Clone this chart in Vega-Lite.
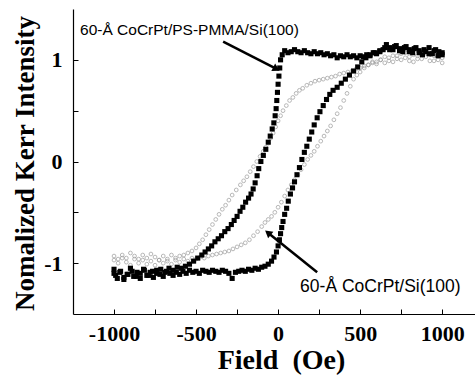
{
"$schema":"https://vega.github.io/schema/vega-lite/v6.json",
"width":402,"height":305,
"autosize":{"type":"none"},
"padding":{"left":73,"top":9,"right":0,"bottom":67},
"background":"white",
"config":{"view":{"stroke":null},
 "axis":{"grid":false,"domainColor":"black","domainWidth":1.2,"tickColor":"black","tickWidth":1,"labelColor":"black","titleColor":"black","labelFont":"Liberation Serif","labelFontWeight":"bold","labelFontSize":22,"titleFont":"Liberation Serif","titleFontWeight":"bold"}},
"datasets":{
"loops":[
{"s":"A","x":1000,"y":1.05},{"s":"A","x":980,"y":1.08},{"s":"A","x":960,"y":1.10},{"s":"A","x":940,"y":1.06},{"s":"A","x":920,"y":1.12},{"s":"A","x":900,"y":1.08},{"s":"A","x":880,"y":1.05},{"s":"A","x":860,"y":1.09},{"s":"A","x":840,"y":1.12},{"s":"A","x":820,"y":1.07},{"s":"A","x":800,"y":1.10},{"s":"A","x":780,"y":1.13},{"s":"A","x":760,"y":1.08},{"s":"A","x":740,"y":1.11},{"s":"A","x":720,"y":1.14},{"s":"A","x":700,"y":1.10},{"s":"A","x":680,"y":1.12},{"s":"A","x":660,"y":1.15},{"s":"A","x":640,"y":1.10},{"s":"A","x":620,"y":1.08},{"s":"A","x":600,"y":1.06},{"s":"A","x":580,"y":1.07},{"s":"A","x":560,"y":1.04},{"s":"A","x":540,"y":1.05},{"s":"A","x":520,"y":1.03},{"s":"A","x":500,"y":1.04},{"s":"A","x":480,"y":1.02},{"s":"A","x":460,"y":1.04},{"s":"A","x":440,"y":1.03},{"s":"A","x":420,"y":1.05},{"s":"A","x":400,"y":1.03},{"s":"A","x":380,"y":1.04},{"s":"A","x":360,"y":1.02},{"s":"A","x":340,"y":1.05},{"s":"A","x":320,"y":1.04},{"s":"A","x":300,"y":1.06},{"s":"A","x":280,"y":1.05},{"s":"A","x":260,"y":1.07},{"s":"A","x":240,"y":1.06},{"s":"A","x":220,"y":1.08},{"s":"A","x":200,"y":1.06},{"s":"A","x":180,"y":1.07},{"s":"A","x":160,"y":1.09},{"s":"A","x":140,"y":1.07},{"s":"A","x":120,"y":1.08},{"s":"A","x":100,"y":1.10},{"s":"A","x":80,"y":1.08},{"s":"A","x":60,"y":1.07},{"s":"A","x":40,"y":1.09},{"s":"A","x":25,"y":1.05},{"s":"A","x":15,"y":1.00},{"s":"A","x":10,"y":0.92},{"s":"A","x":5,"y":0.84},{"s":"A","x":0,"y":0.76},{"s":"A","x":-4,"y":0.68},{"s":"A","x":-8,"y":0.60},{"s":"A","x":-12,"y":0.52},{"s":"A","x":-18,"y":0.45},{"s":"A","x":-26,"y":0.38},{"s":"A","x":-36,"y":0.32},{"s":"A","x":-48,"y":0.25},{"s":"A","x":-60,"y":0.19},{"s":"A","x":-75,"y":0.12},{"s":"A","x":-90,"y":0.06},{"s":"A","x":-105,"y":0.0},{"s":"A","x":-118,"y":-0.07},{"s":"A","x":-128,"y":-0.14},{"s":"A","x":-140,"y":-0.21},{"s":"A","x":-152,"y":-0.27},{"s":"A","x":-165,"y":-0.32},{"s":"A","x":-180,"y":-0.36},{"s":"A","x":-198,"y":-0.40},{"s":"A","x":-215,"y":-0.45},{"s":"A","x":-232,"y":-0.49},{"s":"A","x":-250,"y":-0.54},{"s":"A","x":-268,"y":-0.58},{"s":"A","x":-285,"y":-0.62},{"s":"A","x":-305,"y":-0.66},{"s":"A","x":-325,"y":-0.69},{"s":"A","x":-345,"y":-0.73},{"s":"A","x":-365,"y":-0.76},{"s":"A","x":-385,"y":-0.79},{"s":"A","x":-405,"y":-0.83},{"s":"A","x":-425,"y":-0.86},{"s":"A","x":-445,"y":-0.89},{"s":"A","x":-465,"y":-0.92},{"s":"A","x":-490,"y":-0.95},{"s":"A","x":-515,"y":-0.98},{"s":"A","x":-540,"y":-1.01},{"s":"A","x":-565,"y":-1.03},{"s":"A","x":-590,"y":-1.05},{"s":"A","x":-615,"y":-1.04},{"s":"A","x":-640,"y":-1.07},{"s":"A","x":-665,"y":-1.05},{"s":"A","x":-690,"y":-1.09},{"s":"A","x":-715,"y":-1.06},{"s":"A","x":-740,"y":-1.10},{"s":"A","x":-765,"y":-1.08},{"s":"A","x":-790,"y":-1.12},{"s":"A","x":-815,"y":-1.07},{"s":"A","x":-840,"y":-1.10},{"s":"A","x":-865,"y":-1.13},{"s":"A","x":-890,"y":-1.08},{"s":"A","x":-915,"y":-1.11},{"s":"A","x":-940,"y":-1.14},{"s":"A","x":-965,"y":-1.09},{"s":"A","x":-990,"y":-1.12},{"s":"A","x":-1000,"y":-1.06},
{"s":"A","x":-1000,"y":-1.10},{"s":"A","x":-980,"y":-1.15},{"s":"A","x":-960,"y":-1.08},{"s":"A","x":-940,"y":-1.16},{"s":"A","x":-920,"y":-1.11},{"s":"A","x":-900,"y":-1.05},{"s":"A","x":-880,"y":-1.13},{"s":"A","x":-860,"y":-1.09},{"s":"A","x":-840,"y":-1.15},{"s":"A","x":-820,"y":-1.06},{"s":"A","x":-800,"y":-1.12},{"s":"A","x":-780,"y":-1.09},{"s":"A","x":-760,"y":-1.14},{"s":"A","x":-740,"y":-1.07},{"s":"A","x":-720,"y":-1.11},{"s":"A","x":-700,"y":-1.13},{"s":"A","x":-680,"y":-1.08},{"s":"A","x":-660,"y":-1.10},{"s":"A","x":-640,"y":-1.12},{"s":"A","x":-620,"y":-1.09},{"s":"A","x":-600,"y":-1.11},{"s":"A","x":-580,"y":-1.08},{"s":"A","x":-560,"y":-1.10},{"s":"A","x":-540,"y":-1.07},{"s":"A","x":-520,"y":-1.09},{"s":"A","x":-500,"y":-1.08},{"s":"A","x":-480,"y":-1.10},{"s":"A","x":-460,"y":-1.07},{"s":"A","x":-440,"y":-1.08},{"s":"A","x":-420,"y":-1.09},{"s":"A","x":-400,"y":-1.07},{"s":"A","x":-380,"y":-1.08},{"s":"A","x":-360,"y":-1.09},{"s":"A","x":-340,"y":-1.07},{"s":"A","x":-320,"y":-1.08},{"s":"A","x":-300,"y":-1.10},{"s":"A","x":-280,"y":-1.15},{"s":"A","x":-260,"y":-1.09},{"s":"A","x":-240,"y":-1.08},{"s":"A","x":-220,"y":-1.07},{"s":"A","x":-200,"y":-1.08},{"s":"A","x":-180,"y":-1.06},{"s":"A","x":-160,"y":-1.07},{"s":"A","x":-140,"y":-1.05},{"s":"A","x":-120,"y":-1.06},{"s":"A","x":-100,"y":-1.04},{"s":"A","x":-80,"y":-1.03},{"s":"A","x":-60,"y":-1.01},{"s":"A","x":-40,"y":-0.98},{"s":"A","x":-25,"y":-0.94},{"s":"A","x":-10,"y":-0.89},{"s":"A","x":0,"y":-0.83},{"s":"A","x":8,"y":-0.77},{"s":"A","x":15,"y":-0.71},{"s":"A","x":22,"y":-0.65},{"s":"A","x":30,"y":-0.59},{"s":"A","x":40,"y":-0.52},{"s":"A","x":52,"y":-0.46},{"s":"A","x":62,"y":-0.39},{"s":"A","x":75,"y":-0.32},{"s":"A","x":88,"y":-0.26},{"s":"A","x":100,"y":-0.20},{"s":"A","x":115,"y":-0.13},{"s":"A","x":130,"y":-0.06},{"s":"A","x":145,"y":0.02},{"s":"A","x":160,"y":0.09},{"s":"A","x":175,"y":0.15},{"s":"A","x":190,"y":0.22},{"s":"A","x":205,"y":0.29},{"s":"A","x":220,"y":0.36},{"s":"A","x":238,"y":0.43},{"s":"A","x":255,"y":0.49},{"s":"A","x":275,"y":0.55},{"s":"A","x":295,"y":0.61},{"s":"A","x":315,"y":0.66},{"s":"A","x":335,"y":0.70},{"s":"A","x":360,"y":0.73},{"s":"A","x":385,"y":0.77},{"s":"A","x":410,"y":0.81},{"s":"A","x":435,"y":0.85},{"s":"A","x":460,"y":0.89},{"s":"A","x":485,"y":0.93},{"s":"A","x":510,"y":0.98},{"s":"A","x":535,"y":1.02},{"s":"A","x":560,"y":1.05},{"s":"A","x":590,"y":1.07},{"s":"A","x":620,"y":1.09},{"s":"A","x":650,"y":1.12},{"s":"A","x":680,"y":1.10},{"s":"A","x":710,"y":1.13},{"s":"A","x":740,"y":1.09},{"s":"A","x":770,"y":1.12},{"s":"A","x":800,"y":1.08},{"s":"A","x":830,"y":1.11},{"s":"A","x":860,"y":1.07},{"s":"A","x":890,"y":1.10},{"s":"A","x":920,"y":1.06},{"s":"A","x":950,"y":1.09},{"s":"A","x":975,"y":1.04},{"s":"A","x":1000,"y":1.07},
{"s":"B","x":1000,"y":1.02},{"s":"B","x":975,"y":1.06},{"s":"B","x":950,"y":0.99},{"s":"B","x":925,"y":1.05},{"s":"B","x":900,"y":1.08},{"s":"B","x":875,"y":1.01},{"s":"B","x":850,"y":1.04},{"s":"B","x":825,"y":0.98},{"s":"B","x":800,"y":1.03},{"s":"B","x":775,"y":1.07},{"s":"B","x":750,"y":1.00},{"s":"B","x":725,"y":1.04},{"s":"B","x":700,"y":0.98},{"s":"B","x":675,"y":1.02},{"s":"B","x":650,"y":0.97},{"s":"B","x":625,"y":1.00},{"s":"B","x":600,"y":0.96},{"s":"B","x":575,"y":0.98},{"s":"B","x":550,"y":0.95},{"s":"B","x":525,"y":0.94},{"s":"B","x":500,"y":0.92},{"s":"B","x":475,"y":0.91},{"s":"B","x":450,"y":0.89},{"s":"B","x":425,"y":0.88},{"s":"B","x":400,"y":0.87},{"s":"B","x":375,"y":0.86},{"s":"B","x":350,"y":0.84},{"s":"B","x":325,"y":0.83},{"s":"B","x":300,"y":0.82},{"s":"B","x":275,"y":0.81},{"s":"B","x":250,"y":0.80},{"s":"B","x":225,"y":0.79},{"s":"B","x":200,"y":0.77},{"s":"B","x":175,"y":0.75},{"s":"B","x":150,"y":0.72},{"s":"B","x":130,"y":0.70},{"s":"B","x":110,"y":0.67},{"s":"B","x":90,"y":0.63},{"s":"B","x":70,"y":0.60},{"s":"B","x":50,"y":0.55},{"s":"B","x":30,"y":0.50},{"s":"B","x":15,"y":0.45},{"s":"B","x":0,"y":0.40},{"s":"B","x":-15,"y":0.34},{"s":"B","x":-30,"y":0.28},{"s":"B","x":-45,"y":0.23},{"s":"B","x":-60,"y":0.18},{"s":"B","x":-75,"y":0.14},{"s":"B","x":-90,"y":0.10},{"s":"B","x":-110,"y":0.05},{"s":"B","x":-130,"y":0.00},{"s":"B","x":-150,"y":-0.05},{"s":"B","x":-170,"y":-0.10},{"s":"B","x":-190,"y":-0.15},{"s":"B","x":-210,"y":-0.19},{"s":"B","x":-230,"y":-0.23},{"s":"B","x":-255,"y":-0.28},{"s":"B","x":-280,"y":-0.33},{"s":"B","x":-300,"y":-0.38},{"s":"B","x":-320,"y":-0.43},{"s":"B","x":-340,"y":-0.47},{"s":"B","x":-360,"y":-0.52},{"s":"B","x":-380,"y":-0.57},{"s":"B","x":-400,"y":-0.62},{"s":"B","x":-420,"y":-0.67},{"s":"B","x":-440,"y":-0.72},{"s":"B","x":-460,"y":-0.77},{"s":"B","x":-480,"y":-0.81},{"s":"B","x":-500,"y":-0.85},{"s":"B","x":-525,"y":-0.88},{"s":"B","x":-550,"y":-0.90},{"s":"B","x":-575,"y":-0.92},{"s":"B","x":-600,"y":-0.93},{"s":"B","x":-625,"y":-0.95},{"s":"B","x":-650,"y":-0.92},{"s":"B","x":-675,"y":-0.96},{"s":"B","x":-700,"y":-0.93},{"s":"B","x":-725,"y":-0.97},{"s":"B","x":-750,"y":-0.94},{"s":"B","x":-775,"y":-0.91},{"s":"B","x":-800,"y":-0.95},{"s":"B","x":-825,"y":-0.92},{"s":"B","x":-850,"y":-0.96},{"s":"B","x":-875,"y":-0.93},{"s":"B","x":-900,"y":-0.90},{"s":"B","x":-925,"y":-0.95},{"s":"B","x":-950,"y":-0.92},{"s":"B","x":-975,"y":-0.96},{"s":"B","x":-1000,"y":-0.93},
{"s":"B","x":-1000,"y":-0.97},{"s":"B","x":-975,"y":-1.00},{"s":"B","x":-950,"y":-0.95},{"s":"B","x":-925,"y":-0.99},{"s":"B","x":-900,"y":-1.02},{"s":"B","x":-875,"y":-0.96},{"s":"B","x":-850,"y":-1.00},{"s":"B","x":-825,"y":-0.97},{"s":"B","x":-800,"y":-1.01},{"s":"B","x":-775,"y":-0.98},{"s":"B","x":-750,"y":-1.02},{"s":"B","x":-725,"y":-0.97},{"s":"B","x":-700,"y":-1.00},{"s":"B","x":-675,"y":-0.98},{"s":"B","x":-650,"y":-1.01},{"s":"B","x":-625,"y":-0.97},{"s":"B","x":-600,"y":-0.99},{"s":"B","x":-575,"y":-0.96},{"s":"B","x":-550,"y":-0.98},{"s":"B","x":-525,"y":-0.95},{"s":"B","x":-500,"y":-0.96},{"s":"B","x":-475,"y":-0.94},{"s":"B","x":-450,"y":-0.95},{"s":"B","x":-425,"y":-0.93},{"s":"B","x":-400,"y":-0.92},{"s":"B","x":-375,"y":-0.91},{"s":"B","x":-350,"y":-0.90},{"s":"B","x":-325,"y":-0.89},{"s":"B","x":-300,"y":-0.88},{"s":"B","x":-275,"y":-0.86},{"s":"B","x":-250,"y":-0.84},{"s":"B","x":-225,"y":-0.82},{"s":"B","x":-200,"y":-0.80},{"s":"B","x":-175,"y":-0.77},{"s":"B","x":-150,"y":-0.73},{"s":"B","x":-125,"y":-0.69},{"s":"B","x":-100,"y":-0.64},{"s":"B","x":-80,"y":-0.60},{"s":"B","x":-60,"y":-0.57},{"s":"B","x":-40,"y":-0.54},{"s":"B","x":-20,"y":-0.50},{"s":"B","x":0,"y":-0.45},{"s":"B","x":20,"y":-0.40},{"s":"B","x":40,"y":-0.34},{"s":"B","x":60,"y":-0.28},{"s":"B","x":80,"y":-0.23},{"s":"B","x":100,"y":-0.18},{"s":"B","x":120,"y":-0.13},{"s":"B","x":140,"y":-0.08},{"s":"B","x":160,"y":-0.03},{"s":"B","x":180,"y":0.02},{"s":"B","x":200,"y":0.06},{"s":"B","x":220,"y":0.10},{"s":"B","x":240,"y":0.15},{"s":"B","x":260,"y":0.20},{"s":"B","x":280,"y":0.25},{"s":"B","x":300,"y":0.30},{"s":"B","x":320,"y":0.35},{"s":"B","x":340,"y":0.41},{"s":"B","x":360,"y":0.47},{"s":"B","x":380,"y":0.53},{"s":"B","x":400,"y":0.60},{"s":"B","x":420,"y":0.67},{"s":"B","x":440,"y":0.74},{"s":"B","x":460,"y":0.81},{"s":"B","x":480,"y":0.85},{"s":"B","x":500,"y":0.88},{"s":"B","x":525,"y":0.92},{"s":"B","x":550,"y":0.95},{"s":"B","x":575,"y":0.97},{"s":"B","x":600,"y":0.98},{"s":"B","x":625,"y":1.00},{"s":"B","x":650,"y":1.03},{"s":"B","x":675,"y":0.99},{"s":"B","x":700,"y":1.04},{"s":"B","x":725,"y":1.01},{"s":"B","x":750,"y":1.06},{"s":"B","x":775,"y":1.02},{"s":"B","x":800,"y":0.99},{"s":"B","x":825,"y":1.05},{"s":"B","x":850,"y":1.01},{"s":"B","x":875,"y":1.06},{"s":"B","x":900,"y":1.03},{"s":"B","x":925,"y":0.99},{"s":"B","x":950,"y":1.04},{"s":"B","x":975,"y":1.00},{"s":"B","x":1000,"y":0.97}
],
"arrows":[
{"id":"a1","x":-335,"y":1.18,"x2":-10,"y2":0.91},
{"id":"a2","x":238,"y":-1.09,"x2":-62,"y2":-0.70}
],
"notes":[
{"label":"60-Å CoCrPt/PS-PMMA/Si(100)","x":-1207,"y":1.24,"italic":"italic","size":15.5},
{"label":"60-Å CoCrPt/Si(100)","x":134,"y":-1.286,"italic":"normal","size":17.5}
]
},
"layer":[
{"data":{"name":"loops"},
 "transform":[{"filter":"datum.s === 'B'"}],
 "mark":{"type":"point","shape":"circle","filled":false,"stroke":"#9a9a9a","strokeWidth":1,"size":14},
 "encoding":{
  "x":{"field":"x","type":"quantitative","scale":{"domain":[-1250,1200],"nice":false,"zero":false},
   "axis":{"values":[-1000,-750,-500,-250,0,250,500,750,1000],
    "labelExpr":"datum.value % 500 === 0 ? '' + datum.value : ''",
    "tickSize":-5,
    "labelPadding":14,"labelFlush":false,"labelOverlap":false,
    "title":"Field\u00a0\u00a0(Oe)","titleFontSize":28,"titleX":208,"titleY":54,"titleBaseline":"alphabetic","titleAnchor":"middle"}},
  "y":{"field":"y","type":"quantitative","scale":{"domain":[-1.5,1.5],"nice":false,"zero":false},
   "axis":{"values":[-1,-0.5,0,0.5,1],
    "labelExpr":"datum.value % 1 === 0 ? '' + datum.value : ''",
    "tickSize":-5,
    "labelPadding":16,"labelFlush":false,"labelOverlap":false,
    "title":"Nomalized Kerr Intensity","titleFontSize":27,"titleAngle":-90,"titleX":-40,"titleY":154,"titleBaseline":"alphabetic","titleAlign":"center"}}
 }},
{"data":{"name":"loops"},
 "transform":[{"filter":"datum.s === 'A'"}],
 "mark":{"type":"point","shape":"square","filled":true,"color":"black","size":26,"opacity":1},
 "encoding":{"x":{"field":"x","type":"quantitative"},"y":{"field":"y","type":"quantitative"}}},
{"mark":{"type":"rule","color":"black","strokeWidth":1.2},"encoding":{"y":{"datum":0}}},
{"mark":{"type":"rule","color":"black","strokeWidth":1.2},"encoding":{"x":{"datum":0}}},
{"mark":{"type":"rule","color":"black","strokeWidth":1.5},"encoding":{"y":{"datum":1.5}}},
{"data":{"name":"arrows"},
 "mark":{"type":"rule","color":"black","strokeWidth":2.5},
 "encoding":{"x":{"field":"x","type":"quantitative"},"y":{"field":"y","type":"quantitative"},"x2":{"field":"x2"},"y2":{"field":"y2"}}},
{"data":{"name":"arrows"},
 "transform":[{"filter":"datum.id === 'a1'"}],
 "mark":{"type":"point","shape":"triangle-right","filled":true,"color":"black","size":70,"angle":27,"opacity":1},
 "encoding":{"x":{"field":"x2","type":"quantitative"},"y":{"field":"y2","type":"quantitative"}}},
{"data":{"name":"arrows"},
 "transform":[{"filter":"datum.id === 'a2'"}],
 "mark":{"type":"point","shape":"triangle-right","filled":true,"color":"black","size":70,"angle":219,"opacity":1},
 "encoding":{"x":{"field":"x2","type":"quantitative"},"y":{"field":"y2","type":"quantitative"}}},
{"data":{"name":"notes"},
 "mark":{"type":"text","font":"Liberation Sans","align":"left","baseline":"alphabetic","color":"black"},
 "encoding":{"x":{"field":"x","type":"quantitative"},"y":{"field":"y","type":"quantitative"},"text":{"field":"label"},"fontStyle":{"field":"italic","type":"nominal","scale":null},"size":{"field":"size","type":"quantitative","scale":null}}}
]
}
